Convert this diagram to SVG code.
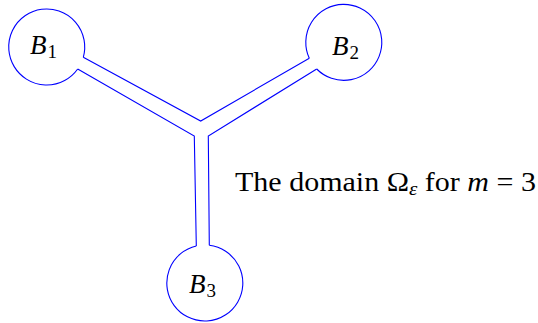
<svg xmlns="http://www.w3.org/2000/svg" width="538" height="323" viewBox="0 0 538 323">
<style>
.b{fill:none;stroke:#0000ff;stroke-width:1.1}
.t{font-family:"Liberation Serif","DejaVu Serif",serif;font-size:27px;fill:#000}
.i{font-style:italic}
.s{font-size:19px}
</style>
<rect width="538" height="323" fill="#fff"/>
<g id="B1">
<path class="b" d="M83.3,57.3 A38,38 0 1 0 77.7,69"/>
<text class="t" x="30" y="54"><tspan class="i">B</tspan><tspan class="s" dx="1" dy="4">1</tspan></text>
</g>
<g id="B2">
<path class="b" d="M309.3,58.3 A38,38 0 1 1 316.7,69"/>
<text class="t" x="332" y="55"><tspan class="i">B</tspan><tspan class="s" dx="1" dy="4">2</tspan></text>
</g>
<g id="B3">
<path class="b" d="M196.3,246 A38,38 0 1 0 209.3,245.3"/>
<text class="t" x="189" y="292.7"><tspan class="i">B</tspan><tspan class="s" dx="1" dy="4">3</tspan></text>
</g>
<g id="connectors">
<path class="b" d="M83.3,57.3 L200.7,121 L309.3,58.3"/>
<path class="b" d="M77.7,69 L194.3,136 L196.3,246"/>
<path class="b" d="M316.7,69 L208.3,136 L209.3,245.3"/>
</g>
<g id="label">
<text class="t" x="235" y="191" textLength="301" lengthAdjust="spacingAndGlyphs">The domain Ω<tspan class="s i" dy="4">ε</tspan><tspan dy="-4"> for </tspan><tspan class="i">m</tspan> = 3</text>
</g>
</svg>
